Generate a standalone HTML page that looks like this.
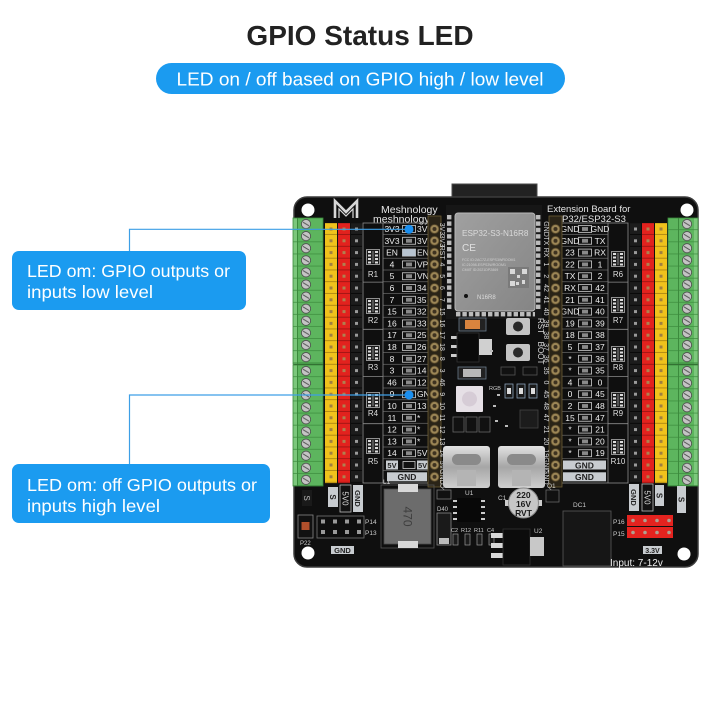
<!DOCTYPE html>
<html><head><meta charset="utf-8"><style>
html,body{margin:0;padding:0;background:#fff;}
svg{display:block;}
text{font-family:"Liberation Sans",Arial,sans-serif;}
</style></head><body>
<svg width="720" height="720" viewBox="0 0 720 720" xmlns="http://www.w3.org/2000/svg">
<defs>
 <pattern id="termL" x="0" y="0" width="30" height="12.1" patternUnits="userSpaceOnUse">
  <rect width="30" height="12.1" fill="#5db55e"/>
  <rect x="0" width="4" height="12.1" fill="#7cc77c"/>
  <rect x="4" width="1" height="12.1" fill="#3b8a3c"/>
  <rect y="11.4" width="30" height="0.7" fill="#3b8a3c"/>
  <circle cx="13" cy="6" r="4.6" fill="#c4c4c4" stroke="#4a4a4a" stroke-width="0.8"/>
  <line x1="10" y1="4.2" x2="16" y2="7.8" stroke="#555" stroke-width="1"/>
 </pattern>
 <pattern id="termR" x="0" y="0" width="30" height="12.1" patternUnits="userSpaceOnUse">
  <rect width="30" height="12.1" fill="#5db55e"/>
  <rect x="26" width="4" height="12.1" fill="#7cc77c"/>
  <rect x="10" width="1" height="12.1" fill="#3b8a3c"/>
  <rect y="11.4" width="30" height="0.7" fill="#3b8a3c"/>
  <circle cx="19" cy="6" r="4.6" fill="#c4c4c4" stroke="#4a4a4a" stroke-width="0.8"/>
  <line x1="16" y1="4.2" x2="22" y2="7.8" stroke="#555" stroke-width="1"/>
 </pattern>
 <pattern id="hy" x="0" y="0" width="12" height="11.8" patternUnits="userSpaceOnUse">
  <rect width="12" height="11.8" fill="#f0c21c"/>
  <rect y="11.1" width="12" height="0.7" fill="#9a7410"/>
  <rect x="4.5" y="4.4" width="3" height="3" fill="#a08040"/>
 </pattern>
 <pattern id="hr" x="0" y="0" width="12" height="11.8" patternUnits="userSpaceOnUse">
  <rect width="12" height="11.8" fill="#e2221e"/>
  <rect y="11.1" width="12" height="0.7" fill="#8a1010"/>
  <rect x="4.5" y="4.4" width="3" height="3" fill="#b08050"/>
 </pattern>
 <pattern id="hk" x="0" y="0" width="11" height="11.8" patternUnits="userSpaceOnUse">
  <rect width="11" height="11.8" fill="#1c1c1c"/>
  <rect y="11.1" width="11" height="0.7" fill="#000"/>
  <rect x="4" y="4.4" width="3" height="3" fill="#9a9a9a"/>
 </pattern>
 <pattern id="pin" x="0" y="0" width="14" height="11.8" patternUnits="userSpaceOnUse">
  <circle cx="7" cy="5.9" r="4.4" fill="#9c8656" stroke="#5a4a2a" stroke-width="0.8"/>
  <circle cx="7" cy="5.9" r="2" fill="#3e3220"/>
 </pattern>
 <pattern id="rowline" x="0" y="0" width="50" height="11.8" patternUnits="userSpaceOnUse">
  <rect y="11.2" width="50" height="0.7" fill="#7a7a7a"/>
 </pattern>
 <pattern id="led" x="0" y="0" width="14" height="11.8" patternUnits="userSpaceOnUse">
  <rect x="0.5" y="2.4" width="13" height="7" fill="#111" stroke="#d0d0d0" stroke-width="0.8"/>
  <rect x="4" y="4" width="6" height="3.8" fill="#8a8a8a"/>
 </pattern>
 <pattern id="pad" x="0" y="0" width="6.4" height="6.4" patternUnits="userSpaceOnUse">
  <rect x="1" y="1" width="4.4" height="4.4" fill="#bcbcbc"/>
 </pattern>
 <linearGradient id="silver" x1="0" y1="0" x2="0" y2="1">
  <stop offset="0" stop-color="#e2e2e2"/><stop offset="0.5" stop-color="#a6a6a6"/><stop offset="1" stop-color="#cfcfcf"/>
 </linearGradient>
 <linearGradient id="shield" x1="0" y1="0" x2="1" y2="1">
  <stop offset="0" stop-color="#a0a0a0"/><stop offset="1" stop-color="#858585"/>
 </linearGradient>
 <symbol id="rnet" viewBox="0 0 14 16" width="14" height="16">
  <rect x="0.5" y="0.5" width="13" height="15" fill="#1a1a1a" stroke="#b0b0b0" stroke-width="0.8"/>
  <rect x="2" y="2" width="3" height="2" fill="#ddd"/><rect x="9" y="2" width="3" height="2" fill="#ddd"/>
  <rect x="2" y="5.5" width="3" height="2" fill="#ddd"/><rect x="9" y="5.5" width="3" height="2" fill="#ddd"/>
  <rect x="2" y="9" width="3" height="2" fill="#ddd"/><rect x="9" y="9" width="3" height="2" fill="#ddd"/>
  <rect x="2" y="12.5" width="3" height="2" fill="#ddd"/><rect x="9" y="12.5" width="3" height="2" fill="#ddd"/>
  <rect x="5.8" y="2" width="2.4" height="12" fill="#555"/>
 </symbol>
</defs>

<rect width="720" height="720" fill="#fff"/>

<!-- Header -->
<text x="360" y="45" font-size="28" font-weight="bold" fill="#222" text-anchor="middle">GPIO Status LED</text>
<rect x="156" y="63" width="409" height="31" rx="15.5" fill="#1b9bf0"/>
<text x="360" y="85.5" font-size="18" fill="#fff" text-anchor="middle" textLength="367" lengthAdjust="spacingAndGlyphs">LED on / off based on GPIO high / low level</text>

<!-- Board -->
<rect x="452" y="184" width="85" height="26" fill="#222" stroke="#4a4a4a" stroke-width="1"/>
<rect x="294" y="197" width="404" height="370" rx="13" fill="#0f0f0f" stroke="#3c3c3c" stroke-width="1.5"/>
<circle cx="308" cy="210" r="6.5" fill="#fff"/>
<circle cx="687" cy="210" r="6.5" fill="#fff"/>
<circle cx="308" cy="553" r="6.5" fill="#fff"/>
<circle cx="684" cy="554" r="6.5" fill="#fff"/>

<!-- logo & top text -->
<path d="M335,218 V201 L346,212 L357,201 V218" stroke="#d8d8d8" stroke-width="2.6" fill="none"/>
<path d="M339,218 V209 L346,216 L353,209 V218" stroke="#d8d8d8" stroke-width="1.2" fill="none"/>
<text x="381" y="213" font-size="10.5" fill="#e6e6e6">Meshnology</text>
<text x="373" y="222.5" font-size="10.5" fill="#e6e6e6">meshnology.c</text>
<text x="547" y="212" font-size="9.5" fill="#e6e6e6">Extension Board for</text>
<text x="562" y="222" font-size="9.5" fill="#e6e6e6">P32/ESP32-S3</text>

<!-- Terminal blocks -->
<g transform="translate(293,218)"><rect width="30" height="146" fill="url(#termL)" stroke="#3b8a3c" stroke-width="0.8"/></g>
<g transform="translate(293,365)"><rect width="30" height="121" fill="url(#termL)" stroke="#3b8a3c" stroke-width="0.8"/></g>
<g transform="translate(668,218)"><rect width="30" height="146" fill="url(#termR)" stroke="#3b8a3c" stroke-width="0.8"/></g>
<g transform="translate(668,365)"><rect width="30" height="121" fill="url(#termR)" stroke="#3b8a3c" stroke-width="0.8"/></g>

<!-- Pin headers -->
<g transform="translate(325,223.1)"><rect width="12" height="260" fill="url(#hy)"/></g>
<g transform="translate(338,223.1)"><rect width="12" height="260" fill="url(#hr)"/></g>
<g transform="translate(351,223.1)"><rect width="11" height="260" fill="url(#hk)"/></g>
<g transform="translate(630,223.1)"><rect width="11" height="260" fill="url(#hk)"/></g>
<g transform="translate(642,223.1)"><rect width="12" height="260" fill="url(#hr)"/></g>
<g transform="translate(655,223.1)"><rect width="12" height="260" fill="url(#hy)"/></g>

<!-- Left label area -->
<rect x="363" y="223" width="66" height="260" fill="none" stroke="#8c8c8c" stroke-width="0.8"/>
<line x1="383" y1="223" x2="383" y2="483" stroke="#8c8c8c" stroke-width="0.8"/>
<g transform="translate(383,223.1)"><rect width="45" height="248" fill="url(#rowline)"/></g>
<g transform="translate(402,223.1)"><rect width="14" height="236" fill="url(#led)"/></g>
<rect x="402.5" y="249.1" width="13" height="7" fill="#b8c4d0"/>
<g stroke="#8c8c8c" stroke-width="0.8">
 <line x1="363" y1="282.1" x2="383" y2="282.1"/><line x1="363" y1="329.3" x2="383" y2="329.3"/>
 <line x1="363" y1="376.5" x2="383" y2="376.5"/><line x1="363" y1="423.7" x2="383" y2="423.7"/>
</g>
<use href="#rnet" x="366" y="249"/><use href="#rnet" x="366" y="298"/><use href="#rnet" x="366" y="345"/><use href="#rnet" x="366" y="392"/><use href="#rnet" x="366" y="438"/>
<g font-size="8" fill="#ddd" text-anchor="middle">
 <text x="373" y="277">R1</text><text x="373" y="323">R2</text><text x="373" y="370">R3</text><text x="373" y="416">R4</text><text x="373" y="464">R5</text>
</g>
<g font-size="8.5" fill="#eee" text-anchor="middle">
 <text x="392" y="232">3V3</text><text x="392" y="243.8">3V3</text><text x="392" y="255.6">EN</text><text x="392" y="267.4">4</text><text x="392" y="279.2">5</text>
 <text x="392" y="291">6</text><text x="392" y="302.8">7</text><text x="392" y="314.6">15</text><text x="392" y="326.4">16</text><text x="392" y="338.2">17</text>
 <text x="392" y="350">18</text><text x="392" y="361.8">8</text><text x="392" y="373.6">3</text><text x="392" y="385.4">46</text><text x="392" y="397.2">9</text>
 <text x="392" y="409">10</text><text x="392" y="420.8">11</text><text x="392" y="432.6">12</text><text x="392" y="444.4">13</text><text x="392" y="456.2">14</text>
</g>
<g font-size="8.5" fill="#eee">
 <text x="417" y="232">3V3</text><text x="417" y="243.8">3V3</text><text x="417" y="255.6">EN</text><text x="417" y="267.4">VP</text><text x="417" y="279.2">VN</text>
 <text x="417" y="291">34</text><text x="417" y="302.8">35</text><text x="417" y="314.6">32</text><text x="417" y="326.4">33</text><text x="417" y="338.2">25</text>
 <text x="417" y="350">26</text><text x="417" y="361.8">27</text><text x="417" y="373.6">14</text><text x="417" y="385.4">12</text><text x="417" y="397.2">GND</text>
 <text x="417" y="409">13</text><text x="417" y="420.8">*</text><text x="417" y="432.6">*</text><text x="417" y="444.4">*</text><text x="417" y="456.2">5V</text>
</g>
<rect x="386" y="460.5" width="12" height="9" fill="#c8ccd0"/><rect x="403" y="461.5" width="12" height="7" fill="#111" stroke="#ccc" stroke-width="0.8"/><rect x="417" y="460.5" width="11" height="9" fill="#c8ccd0"/>
<text x="392" y="468" font-size="7.5" font-weight="bold" fill="#222" text-anchor="middle">5V</text>
<text x="418" y="468" font-size="7.5" font-weight="bold" fill="#222">5V</text>
<rect x="387" y="472.3" width="40" height="9" fill="#c8ccd0"/>
<text x="407" y="480" font-size="8.5" font-weight="bold" fill="#222" text-anchor="middle">GND</text>

<!-- Right label area -->
<rect x="560" y="223" width="68" height="260" fill="none" stroke="#8c8c8c" stroke-width="0.8"/>
<line x1="608" y1="223" x2="608" y2="483" stroke="#8c8c8c" stroke-width="0.8"/>
<g transform="translate(560,223.1)"><rect width="48" height="236" fill="url(#rowline)"/></g>
<g transform="translate(578,223.1)"><rect width="14" height="236" fill="url(#led)"/></g>
<g stroke="#8c8c8c" stroke-width="0.8">
 <line x1="608" y1="282.1" x2="628" y2="282.1"/><line x1="608" y1="329.3" x2="628" y2="329.3"/>
 <line x1="608" y1="376.5" x2="628" y2="376.5"/><line x1="608" y1="423.7" x2="628" y2="423.7"/>
</g>
<use href="#rnet" x="611" y="251"/><use href="#rnet" x="611" y="297"/><use href="#rnet" x="611" y="346"/><use href="#rnet" x="611" y="392"/><use href="#rnet" x="611" y="439"/>
<g font-size="8" fill="#ddd" text-anchor="middle">
 <text x="618" y="277">R6</text><text x="618" y="323">R7</text><text x="618" y="370">R8</text><text x="618" y="416">R9</text><text x="618" y="464">R10</text>
</g>
<g font-size="8.5" fill="#eee" text-anchor="middle">
 <text x="570" y="232">GND</text><text x="570" y="243.8">GND</text><text x="570" y="255.6">23</text><text x="570" y="267.4">22</text><text x="570" y="279.2">TX</text>
 <text x="570" y="291">RX</text><text x="570" y="302.8">21</text><text x="570" y="314.6">GND</text><text x="570" y="326.4">19</text><text x="570" y="338.2">18</text>
 <text x="570" y="350">5</text><text x="570" y="361.8">*</text><text x="570" y="373.6">*</text><text x="570" y="385.4">4</text><text x="570" y="397.2">0</text>
 <text x="570" y="409">2</text><text x="570" y="420.8">15</text><text x="570" y="432.6">*</text><text x="570" y="444.4">*</text><text x="570" y="456.2">*</text>
</g>
<g font-size="8.5" fill="#eee" text-anchor="middle">
 <text x="600" y="232">GND</text><text x="600" y="243.8">TX</text><text x="600" y="255.6">RX</text><text x="600" y="267.4">1</text><text x="600" y="279.2">2</text>
 <text x="600" y="291">42</text><text x="600" y="302.8">41</text><text x="600" y="314.6">40</text><text x="600" y="326.4">39</text><text x="600" y="338.2">38</text>
 <text x="600" y="350">37</text><text x="600" y="361.8">36</text><text x="600" y="373.6">35</text><text x="600" y="385.4">0</text><text x="600" y="397.2">45</text>
 <text x="600" y="409">48</text><text x="600" y="420.8">47</text><text x="600" y="432.6">21</text><text x="600" y="444.4">20</text><text x="600" y="456.2">19</text>
</g>
<rect x="563" y="460.5" width="43" height="9" fill="#c8ccd0"/><rect x="563" y="472.3" width="43" height="9" fill="#c8ccd0"/>
<text x="584.5" y="468.3" font-size="8.5" font-weight="bold" fill="#222" text-anchor="middle">GND</text>
<text x="584.5" y="480.1" font-size="8.5" font-weight="bold" fill="#222" text-anchor="middle">GND</text>

<!-- ESP32 module -->
<rect x="446" y="205" width="96" height="114" fill="#161616"/>
<g transform="translate(446,214)"><rect width="7" height="96" fill="url(#pad)"/></g>
<g transform="translate(535,214)"><rect width="7" height="96" fill="url(#pad)"/></g>
<g transform="translate(455,311)"><rect width="80" height="7" fill="url(#pad)"/></g>
<rect x="455" y="213" width="80" height="98" rx="3" fill="url(#shield)" stroke="#b8b8b8" stroke-width="1"/>
<text x="462" y="236" font-size="8.2" fill="#dadada">ESP32-S3-N16R8</text>
<text x="462" y="251" font-size="10" fill="#e0e0e0">CE</text>
<g font-size="3.6" fill="#d0d0d0"><text x="462" y="261">FCC ID:2AC7Z-ESPS3WROOM1</text><text x="462" y="266">IC:21098-ESPS3WROOM1</text><text x="462" y="271">CMIIT ID:2021DP2869</text></g>
<rect x="508" y="267" width="21" height="21" fill="#7a7a7a"/>
<g fill="#d8d8d8"><rect x="510" y="269" width="5" height="5"/><rect x="522" y="269" width="5" height="5"/><rect x="510" y="281" width="5" height="5"/><rect x="517" y="275" width="3" height="3"/><rect x="522" y="280" width="3" height="4"/><rect x="516" y="282" width="3" height="3"/></g>
<circle cx="466" cy="296" r="2" fill="#111"/>
<text x="477" y="299" font-size="6" fill="#dcdcdc">N16R8</text>

<!-- Pin strips -->
<rect x="428" y="216" width="13" height="271" fill="#2a2417" stroke="#6d5c33" stroke-width="0.8"/>
<g transform="translate(427.5,223.1)"><rect width="14" height="260" fill="url(#pin)"/></g>
<rect x="549" y="216" width="13" height="271" fill="#2a2417" stroke="#6d5c33" stroke-width="0.8"/>
<g transform="translate(548.5,223.1)"><rect width="14" height="260" fill="url(#pin)"/></g>

<g font-size="7" fill="#d8d8d8" text-anchor="middle">
 <text transform="translate(442.5,229) rotate(90)" dy="2.5">3V3</text>
 <text transform="translate(442.5,240.8) rotate(90)" dy="2.5">3V3</text>
 <text transform="translate(442.5,252.6) rotate(90)" dy="2.5">RST</text>
 <text transform="translate(442.5,264.4) rotate(90)" dy="2.5">4</text>
 <text transform="translate(442.5,276.2) rotate(90)" dy="2.5">5</text>
 <text transform="translate(442.5,288) rotate(90)" dy="2.5">6</text>
 <text transform="translate(442.5,299.8) rotate(90)" dy="2.5">7</text>
 <text transform="translate(442.5,311.6) rotate(90)" dy="2.5">15</text>
 <text transform="translate(442.5,323.4) rotate(90)" dy="2.5">16</text>
 <text transform="translate(442.5,335.2) rotate(90)" dy="2.5">17</text>
 <text transform="translate(442.5,347) rotate(90)" dy="2.5">18</text>
 <text transform="translate(442.5,358.8) rotate(90)" dy="2.5">8</text>
 <text transform="translate(442.5,370.6) rotate(90)" dy="2.5">3</text>
 <text transform="translate(442.5,382.4) rotate(90)" dy="2.5">46</text>
 <text transform="translate(442.5,394.2) rotate(90)" dy="2.5">9</text>
 <text transform="translate(442.5,406) rotate(90)" dy="2.5">10</text>
 <text transform="translate(442.5,417.8) rotate(90)" dy="2.5">11</text>
 <text transform="translate(442.5,429.6) rotate(90)" dy="2.5">12</text>
 <text transform="translate(442.5,441.4) rotate(90)" dy="2.5">13</text>
 <text transform="translate(442.5,453.2) rotate(90)" dy="2.5">14</text>
 <text transform="translate(442.5,465) rotate(90)" dy="2.5">5V</text>
 <text transform="translate(442.5,476.8) rotate(90)" dy="2.5">GND</text>
 <text transform="translate(546.5,229) rotate(90)" dy="2.5">GND</text>
 <text transform="translate(546.5,240.8) rotate(90)" dy="2.5">TX</text>
 <text transform="translate(546.5,252.6) rotate(90)" dy="2.5">RX</text>
 <text transform="translate(546.5,264.4) rotate(90)" dy="2.5">1</text>
 <text transform="translate(546.5,276.2) rotate(90)" dy="2.5">2</text>
 <text transform="translate(546.5,288) rotate(90)" dy="2.5">42</text>
 <text transform="translate(546.5,299.8) rotate(90)" dy="2.5">41</text>
 <text transform="translate(546.5,311.6) rotate(90)" dy="2.5">40</text>
 <text transform="translate(546.5,323.4) rotate(90)" dy="2.5">39</text>
 <text transform="translate(546.5,335.2) rotate(90)" dy="2.5">38</text>
 <text transform="translate(546.5,347) rotate(90)" dy="2.5">37</text>
 <text transform="translate(546.5,358.8) rotate(90)" dy="2.5">36</text>
 <text transform="translate(546.5,370.6) rotate(90)" dy="2.5">35</text>
 <text transform="translate(546.5,382.4) rotate(90)" dy="2.5">0</text>
 <text transform="translate(546.5,394.2) rotate(90)" dy="2.5">45</text>
 <text transform="translate(546.5,406) rotate(90)" dy="2.5">48</text>
 <text transform="translate(546.5,417.8) rotate(90)" dy="2.5">47</text>
 <text transform="translate(546.5,429.6) rotate(90)" dy="2.5">21</text>
 <text transform="translate(546.5,441.4) rotate(90)" dy="2.5">20</text>
 <text transform="translate(546.5,453.2) rotate(90)" dy="2.5">19</text>
 <text transform="translate(546.5,465) rotate(90)" dy="2.5">GND</text>
 <text transform="translate(546.5,476.8) rotate(90)" dy="2.5">GND</text>
</g>

<!-- central components -->
<rect x="459" y="318" width="27" height="13" fill="#222" stroke="#6a7a8a" stroke-width="0.8"/>
<rect x="465" y="320" width="15" height="9" fill="#d9843e"/>
<rect x="451" y="336" width="6" height="3" fill="#ccc"/><rect x="451" y="345" width="6" height="3" fill="#ccc"/><rect x="451" y="354" width="6" height="3" fill="#ccc"/>
<rect x="457" y="333" width="22" height="29" fill="#0a0a0a" stroke="#333" stroke-width="0.8"/>
<rect x="479" y="339" width="13" height="16" fill="#d0d0d0"/>
<rect x="458" y="367" width="28" height="12" fill="#222" stroke="#6a7a8a" stroke-width="0.8"/>
<rect x="463" y="369" width="18" height="8" fill="#b8b8b8"/>
<rect x="456" y="386" width="27" height="26" rx="1" fill="#e6e0e6"/>
<circle cx="469.5" cy="399" r="7.5" fill="#d6ccd6"/>
<text x="489" y="390" font-size="5.5" fill="#ccc">RGB</text>
<rect x="505" y="384" width="8" height="14" fill="#1a1a1a" stroke="#8aa0b8" stroke-width="0.8"/><rect x="507" y="388" width="4" height="6" fill="#ddd"/>
<rect x="517" y="384" width="8" height="14" fill="#1a1a1a" stroke="#8aa0b8" stroke-width="0.8"/><rect x="519" y="388" width="4" height="6" fill="#ddd"/>
<rect x="529" y="384" width="8" height="14" fill="#1a1a1a" stroke="#8aa0b8" stroke-width="0.8"/><rect x="531" y="388" width="4" height="6" fill="#ddd"/>
<rect x="501" y="367" width="14" height="8" fill="#111" stroke="#555" stroke-width="0.8"/>
<rect x="523" y="367" width="14" height="8" fill="#111" stroke="#555" stroke-width="0.8"/>
<rect x="506" y="318" width="24" height="17" rx="2" fill="#c4c4c4"/><circle cx="518" cy="326.5" r="5" fill="#2a2a2a"/>
<rect x="506" y="344" width="24" height="17" rx="2" fill="#c4c4c4"/><circle cx="518" cy="352.5" r="5" fill="#2a2a2a"/>
<text transform="translate(538,326) rotate(90)" font-size="8" fill="#ddd" text-anchor="middle">RST</text>
<text transform="translate(538,353) rotate(90)" font-size="8" fill="#ddd" text-anchor="middle">BOOT</text>
<rect x="453" y="417" width="11" height="15" fill="#111" stroke="#666" stroke-width="0.8"/>
<rect x="466" y="417" width="11" height="15" fill="#111" stroke="#666" stroke-width="0.8"/>
<rect x="479" y="417" width="11" height="15" fill="#111" stroke="#666" stroke-width="0.8"/>
<rect x="520" y="410" width="18" height="18" fill="#1c1c1c" stroke="#444" stroke-width="0.8"/>
<g fill="#bbb"><rect x="490" y="350" width="3" height="2"/><rect x="497" y="394" width="3" height="2"/><rect x="495" y="420" width="3" height="2"/><rect x="505" y="425" width="3" height="2"/><rect x="493" y="405" width="3" height="2"/></g>
<!-- USB-C -->
<rect x="443" y="446" width="47" height="42" rx="3" fill="url(#silver)"/>
<rect x="452" y="454" width="29" height="11" rx="5.5" fill="#8a8a8a"/>
<rect x="457" y="470" width="19" height="16" fill="#b4b4b4"/>
<rect x="498" y="446" width="47" height="42" rx="3" fill="url(#silver)"/>
<rect x="507" y="454" width="29" height="11" rx="5.5" fill="#8a8a8a"/>
<rect x="512" y="470" width="19" height="16" fill="#b4b4b4"/>

<!-- bottom left labels -->
<rect x="302" y="490" width="10" height="16" fill="#1a1a1a"/>
<text transform="translate(307,498) rotate(90)" font-size="8" fill="#bbb" text-anchor="middle" dy="3">S</text>
<rect x="328" y="487" width="10" height="20" fill="#c8ccd0"/>
<text transform="translate(333,497) rotate(90)" font-size="8" font-weight="bold" fill="#222" text-anchor="middle" dy="3">S</text>
<rect x="340" y="485" width="11" height="27" fill="#111" stroke="#bbb" stroke-width="0.8"/>
<text transform="translate(345.5,498.5) rotate(90)" font-size="8" fill="#ddd" text-anchor="middle" dy="3">5V0</text>
<rect x="353" y="485" width="10" height="27" fill="#c8ccd0"/>
<text transform="translate(358,498.5) rotate(90)" font-size="7.5" font-weight="bold" fill="#222" text-anchor="middle" dy="3">GND</text>
<!-- bottom right labels -->
<rect x="629" y="484" width="10" height="27" fill="#c8ccd0"/>
<text transform="translate(634,497.5) rotate(90)" font-size="7.5" font-weight="bold" fill="#222" text-anchor="middle" dy="3">GND</text>
<rect x="642" y="484" width="11" height="27" fill="#111" stroke="#bbb" stroke-width="0.8"/>
<text transform="translate(647.5,497.5) rotate(90)" font-size="8" fill="#ddd" text-anchor="middle" dy="3">5V0</text>
<rect x="655" y="485" width="9" height="21" fill="#c8ccd0"/>
<text transform="translate(659.5,495.5) rotate(90)" font-size="8" font-weight="bold" fill="#222" text-anchor="middle" dy="3">S</text>
<rect x="677" y="486" width="9" height="27" fill="#c8ccd0"/>
<text transform="translate(681.5,499.5) rotate(90)" font-size="8" font-weight="bold" fill="#222" text-anchor="middle" dy="3">S</text>

<!-- P22 / P14 / P13 -->
<rect x="298" y="515" width="15" height="23" fill="#111" stroke="#888" stroke-width="0.8"/>
<rect x="301.5" y="522" width="8" height="8" fill="#b0502c"/>
<text x="300" y="545" font-size="6" fill="#ccc">P22</text>
<rect x="317" y="516" width="47" height="22" fill="#0e0e0e" stroke="#777" stroke-width="0.8"/>
<g fill="#9a9a9a">
 <rect x="321" y="519.5" width="4" height="4"/><rect x="333" y="519.5" width="4" height="4"/><rect x="345" y="519.5" width="4" height="4"/><rect x="357" y="519.5" width="4" height="4"/>
 <rect x="321" y="530" width="4" height="4"/><rect x="333" y="530" width="4" height="4"/><rect x="345" y="530" width="4" height="4"/><rect x="357" y="530" width="4" height="4"/>
</g>
<text x="365" y="524" font-size="6.5" fill="#ccc">P14</text>
<text x="365" y="535" font-size="6.5" fill="#ccc">P13</text>
<rect x="331" y="546" width="23" height="8" fill="#c8ccd0"/>
<text x="342.5" y="552.8" font-size="7.5" font-weight="bold" fill="#222" text-anchor="middle">GND</text>

<!-- L1 and power parts -->
<rect x="381" y="485" width="53" height="63" fill="none" stroke="#555" stroke-width="0.8"/>
<text x="383" y="484" font-size="6.5" fill="#ccc">L1</text>
<rect x="384" y="489" width="47" height="55" fill="#6c6c6c" stroke="#4a4a4a" stroke-width="0.8"/>
<rect x="398" y="484" width="20" height="8" fill="#d8d8d8"/>
<rect x="398" y="541" width="20" height="7" fill="#d8d8d8"/>
<text transform="translate(407.5,516.5) rotate(90)" font-size="12" fill="#3e3e3e" text-anchor="middle" dy="4">470</text>
<text x="440" y="488" font-size="6.5" fill="#ccc">Q2</text>
<rect x="437" y="490" width="14" height="9" fill="#111" stroke="#777" stroke-width="0.8"/>
<text x="465" y="495" font-size="6.5" fill="#ccc">U1</text>
<rect x="457" y="498" width="24" height="24" fill="#080808"/>
<g fill="#ccc"><rect x="453" y="500" width="4" height="2"/><rect x="453" y="506" width="4" height="2"/><rect x="453" y="512" width="4" height="2"/><rect x="453" y="518" width="4" height="2"/>
<rect x="481" y="500" width="4" height="2"/><rect x="481" y="506" width="4" height="2"/><rect x="481" y="512" width="4" height="2"/><rect x="481" y="518" width="4" height="2"/></g>
<text x="437" y="511" font-size="6" fill="#ccc">D40</text>
<rect x="437" y="513" width="14" height="32" fill="#1a1a1a" stroke="#888" stroke-width="0.8"/>
<rect x="439" y="538" width="10" height="6" fill="#bbb"/>
<g font-size="5.5" fill="#ccc"><text x="451" y="532">C2</text><text x="461" y="532">R12</text><text x="474" y="532">R11</text><text x="487" y="532">C4</text></g>
<g fill="#1a1a1a" stroke="#999" stroke-width="0.7"><rect x="453" y="534" width="5" height="11"/><rect x="465" y="534" width="5" height="11"/><rect x="477" y="534" width="5" height="11"/><rect x="489" y="534" width="5" height="11"/></g>
<text x="498" y="500" font-size="6.5" fill="#ccc">C1</text>
<rect x="505" y="500" width="4" height="6" fill="#ccc"/><rect x="538" y="500" width="4" height="6" fill="#ccc"/>
<circle cx="523.5" cy="503" r="15" fill="#c6c6c6" stroke="#888" stroke-width="1"/>
<g font-size="8.5" font-weight="bold" fill="#1a1a1a" text-anchor="middle"><text x="523.5" y="498">220</text><text x="523.5" y="507">16V</text><text x="523.5" y="516">RVT</text></g>
<text x="547" y="488" font-size="6.5" fill="#ccc">Q1</text>
<rect x="546" y="490" width="13" height="12" fill="#111" stroke="#666" stroke-width="0.8"/>
<g fill="#d8d8d8"><rect x="491" y="533" width="12" height="5"/><rect x="491" y="543" width="12" height="5"/><rect x="491" y="553" width="12" height="5"/></g>
<rect x="503" y="529" width="27" height="36" fill="#0c0c0c" stroke="#333" stroke-width="0.8"/>
<rect x="530" y="537" width="14" height="19" fill="#c8c8c8"/>
<text x="534" y="533" font-size="6.5" fill="#ccc">U2</text>
<text x="573" y="507" font-size="6.5" fill="#ccc">DC1</text>
<rect x="563" y="511" width="48" height="55" fill="#161616" stroke="#5a5a5a" stroke-width="0.8"/>
<text x="610" y="566" font-size="10" fill="#eee">Input: 7-12v</text>
<!-- P16 / P15 -->
<rect x="627" y="515" width="46" height="11" fill="#e4231f"/>
<rect x="627" y="527" width="46" height="11" fill="#e4231f"/>
<g fill="#b0a090">
 <circle cx="633" cy="520.5" r="1.8"/><circle cx="645" cy="520.5" r="1.8"/><circle cx="657" cy="520.5" r="1.8"/><circle cx="669" cy="520.5" r="1.8"/>
 <circle cx="633" cy="532.5" r="1.8"/><circle cx="645" cy="532.5" r="1.8"/><circle cx="657" cy="532.5" r="1.8"/><circle cx="669" cy="532.5" r="1.8"/>
</g>
<text x="613" y="524" font-size="6.5" fill="#ccc">P16</text>
<text x="613" y="536" font-size="6.5" fill="#ccc">P15</text>
<rect x="643" y="546" width="19" height="8" fill="#c8ccd0"/>
<text x="652.5" y="552.8" font-size="7" font-weight="bold" fill="#222" text-anchor="middle">3.3V</text>

<!-- Callouts -->
<g stroke="#3d9fe6" stroke-width="1.2" fill="none">
 <polyline points="129.5,251 129.5,229.3 409,229.3"/>
 <polyline points="129.5,464 129.5,395 409,395"/>
</g>
<circle cx="409" cy="229.3" r="4.5" fill="#1b8fef"/>
<circle cx="409" cy="395" r="4.5" fill="#1b8fef"/>

<rect x="12" y="251" width="234" height="59" rx="7" fill="#1b9bf0"/>
<text x="27" y="277" font-size="17.5" fill="#fff" textLength="203" lengthAdjust="spacingAndGlyphs">LED om: GPIO outputs or</text>
<text x="27" y="298" font-size="17.5" fill="#fff" textLength="126" lengthAdjust="spacingAndGlyphs">inputs low level</text>

<rect x="12" y="464" width="258" height="59" rx="7" fill="#1b9bf0"/>
<text x="27" y="491" font-size="17.5" fill="#fff" textLength="230" lengthAdjust="spacingAndGlyphs">LED om: off GPIO outputs or</text>
<text x="27" y="512" font-size="17.5" fill="#fff" textLength="133" lengthAdjust="spacingAndGlyphs">inputs high level</text>
</svg>
</body></html>
